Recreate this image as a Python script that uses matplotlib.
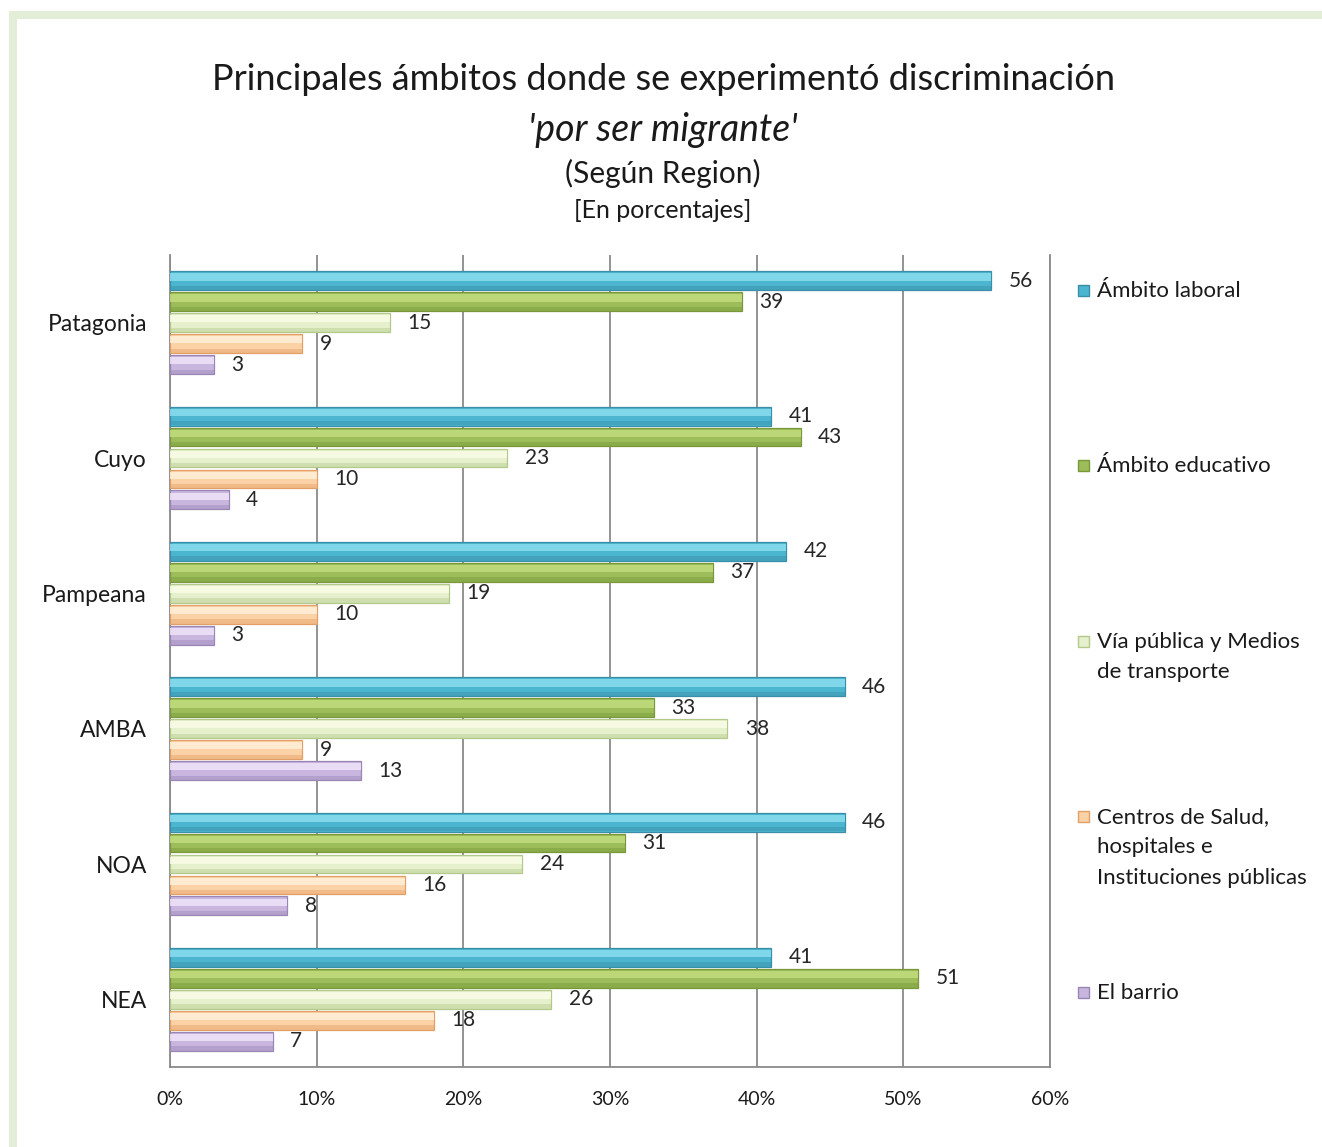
"""Principales ámbitos donde se experimentó discriminación 'por ser migrante', según región."""

import matplotlib

matplotlib.use("Agg")
import matplotlib.pyplot as plt
from matplotlib.patches import Rectangle
from matplotlib.ticker import FuncFormatter, MultipleLocator

plt.rcParams["font.family"] = ["Lato", "DejaVu Sans"]

REGIONS = ["Patagonia", "Cuyo", "Pampeana", "AMBA", "NOA", "NEA"]
SERIES = [
    "Ámbito laboral",
    "Ámbito educativo",
    "Vía pública y Medios\nde transporte",
    "Centros de Salud,\nhospitales e\nInstituciones públicas",
    "El barrio",
]
laboral = [56, 41, 42, 46, 46, 41]
educativo = [39, 43, 37, 33, 31, 51]
via_publica = [15, 23, 19, 38, 24, 26]
salud = [9, 10, 10, 9, 16, 18]
barrio = [3, 4, 3, 13, 8, 7]
VALUES = [laboral, educativo, via_publica, salud, barrio]

# (highlight, body, shade) per series, imitating the Excel bevel look
COLORS = [
    ("#8fe0f2", "#4cb5cf", "#3a8fa8"),
    ("#c3de80", "#9cbd59", "#789839"),
    ("#fbfde8", "#e6f0cc", "#b3c98a"),
    ("#fff2dc", "#fbd2a6", "#e3a066"),
    ("#f1e7fb", "#c8b6df", "#9a86b5"),
]

STEP = 0.155
H = 0.14

fig = plt.figure(figsize=(13.22, 11.47), dpi=100)
ax = fig.add_axes([170 / 1322, 80 / 1147, 880 / 1322, 812 / 1147])

for s, (vals, (hi, body, shade)) in enumerate(zip(VALUES, COLORS)):
    ys = [c + (s - 2) * STEP for c in range(len(REGIONS))]
    ax.barh(ys, vals, height=H, color=body, edgecolor=shade, linewidth=0.9, zorder=3)
    ax.barh([y - H * 0.2 for y in ys], vals, height=H * 0.38, color=hi,
            linewidth=0, alpha=0.8, zorder=4)
    ax.barh([y + H * 0.38 for y in ys], vals, height=H * 0.22, color=shade,
            linewidth=0, alpha=0.45, zorder=4)
    for y, v in zip(ys, vals):
        ax.text(v + 1.2, y, f"{v}", va="center", ha="left", fontsize=15,
                color="#262626", zorder=5)

ax.set_xlim(0, 60)
ax.set_ylim(len(REGIONS) - 0.5, -0.5)
ax.xaxis.set_major_locator(MultipleLocator(10))
ax.xaxis.set_major_formatter(FuncFormatter(lambda x, _: f"{x:.0f}%"))
ax.set_yticks(range(len(REGIONS)))
ax.set_yticklabels(REGIONS, fontsize=16.5, color="#1a1a1a")
ax.tick_params(axis="y", length=0, pad=16.5)
ax.tick_params(axis="x", length=0, pad=17, labelsize=14, colors="#1a1a1a")
ax.grid(axis="x", color="#8a8a8a", linewidth=1.3, zorder=0)
ax.spines["top"].set_visible(False)
for side in ("left", "bottom", "right"):
    ax.spines[side].set_color("#8a8a8a")
    ax.spines[side].set_linewidth(1.3)

# titles
fig.text(663 / 1322, 1 - 80 / 1147, "Principales ámbitos donde se experimentó discriminación",
         ha="center", va="center", fontsize=26, color="#1a1a1a")
fig.text(663 / 1322, 1 - 130 / 1147, "'por ser migrante'", ha="center", va="center",
         fontsize=27, style="italic", color="#1a1a1a")
fig.text(663 / 1322, 1 - 173 / 1147, "(Según Region)", ha="center", va="center",
         fontsize=21.5, color="#1a1a1a")
fig.text(663 / 1322, 1 - 211 / 1147, "[En porcentajes]", ha="center", va="center",
         fontsize=18, color="#1a1a1a")

# legend, spread like the Excel original
legend_y = [290, 465, 641, 816, 992]
for label, (hi, body, shade), ly in zip(SERIES, COLORS, legend_y):
    fig.patches.append(Rectangle((1078 / 1322, 1 - (ly + 6) / 1147), 11 / 1322, 11 / 1147,
                                 transform=fig.transFigure, facecolor=body,
                                 edgecolor=shade, linewidth=1.0))
    fig.text(1097 / 1322, 1 - (ly - 9) / 1147, label, ha="left", va="top",
             fontsize=16, color="#1a1a1a", linespacing=1.65)

# light green frame on the top and left edges
fig.patches.append(Rectangle((13 / 1322, -0.2), 1.2, 1.2 - 15 / 1147,
                             transform=fig.transFigure, facecolor="none",
                             edgecolor="#e2eed8", linewidth=5.8, clip_on=False))

fig.savefig("out.png", dpi=100)
